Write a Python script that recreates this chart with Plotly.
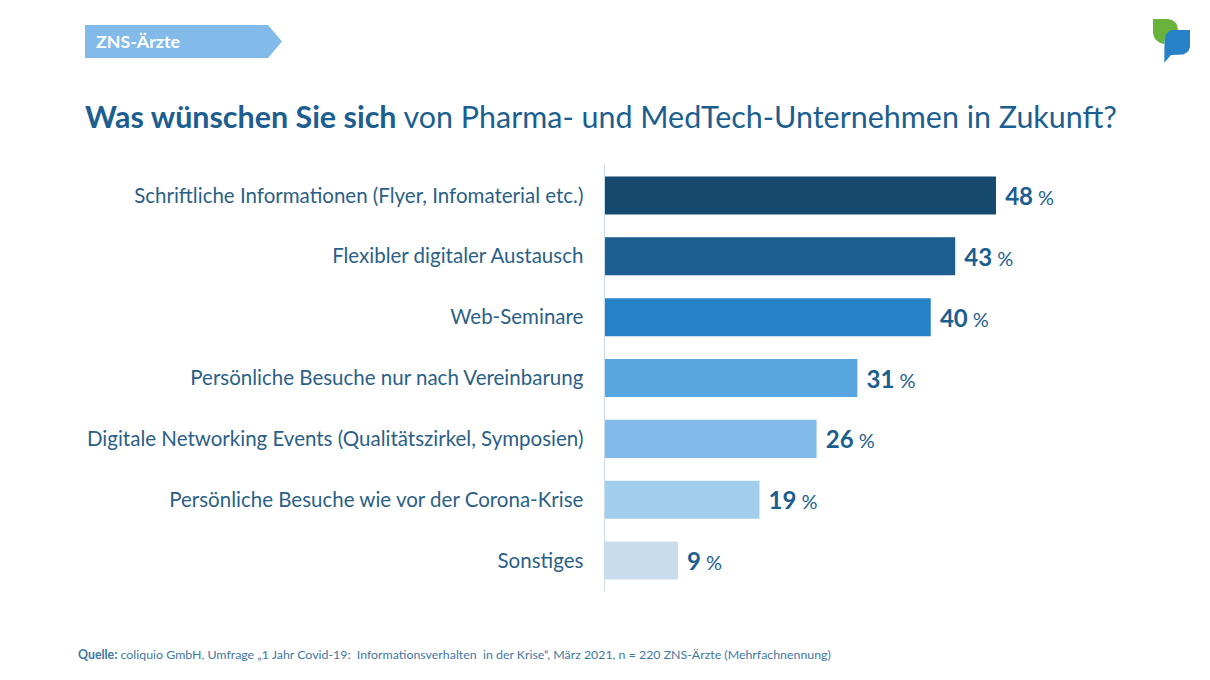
import plotly.graph_objects as go

W = 1210
H = 680

categories = [
    'Schriftliche Informationen (Flyer, Infomaterial etc.)',
    'Flexibler digitaler Austausch',
    'Web-Seminare',
    'Persönliche Besuche nur nach Vereinbarung',
    'Digitale Networking Events (Qualitätszirkel, Symposien)',
    'Persönliche Besuche wie vor der Corona-Krise',
    'Sonstiges',
]
values = [48, 43, 40, 31, 26, 19, 9]
bar_colors = ['#154a6e', '#1b5e8f', '#2681c7', '#58a6e0', '#82bbe9', '#a2ceee', '#c9dcec']

FONT = 'Lato'
TEXT_BLUE = '#1b5e8f'
LABEL_BLUE = '#2b5f87'


# pixel position on the page -> paper coordinates
def px(x):
    return x / W


def py(y):
    return 1 - y / H


def path(points):
    return 'M ' + ' L '.join(f'{px(x):.5f},{py(y):.5f}' for x, y in points) + ' Z'


fig = go.Figure(
    go.Bar(
        x=values,
        y=categories,
        orientation='h',
        marker=dict(color=bar_colors, line=dict(width=0)),
        text=[f"\u00a0<b>{v}</b><span style='font-size:20px'> %</span>" for v in values],
        textposition='outside',
        textfont=dict(family=FONT, size=24, color=TEXT_BLUE),
        cliponaxis=False,
        hoverinfo='skip',
    )
)

fig.update_layout(
    width=W,
    height=H,
    margin=dict(l=0, r=0, t=0, b=0),
    autosize=False,
    paper_bgcolor='white',
    plot_bgcolor='white',
    showlegend=False,
    bargap=0.375,
    font=dict(family=FONT, color=LABEL_BLUE),
)

fig.update_xaxes(
    domain=[px(604.5), px(604.5 + 60 * 8.156)],
    range=[0, 60],
    visible=False,
)
fig.update_yaxes(
    domain=[py(591), py(165)],
    autorange='reversed',
    showgrid=False,
    showline=True,
    linecolor='#c9dcec',
    linewidth=1,
    ticks='',
    ticklabelstandoff=16,
    tickfont=dict(family=FONT, size=20.5, color=LABEL_BLUE),
)

# tag top left
fig.add_shape(
    type='path',
    xref='paper', yref='paper',
    path=path([(85, 25), (268, 25), (282, 41.5), (268, 58), (85, 58)]),
    fillcolor='#82bbe9',
    line=dict(width=0),
)

# logo: green leaf behind, blue speech bubble in front
fig.add_shape(
    type='path',
    xref='paper', yref='paper',
    path=path([(1153, 19), (1168, 19), (1172, 20), (1175, 22), (1177, 25), (1178, 30),
               (1178, 34), (1168, 34), (1165, 38), (1164, 44), (1160, 43), (1156, 40),
               (1154, 37), (1153, 33)]),
    fillcolor='#69b23c',
    line=dict(width=0),
)
fig.add_shape(
    type='path',
    xref='paper', yref='paper',
    path=path([(1171.5, 30), (1190, 30), (1190, 47), (1188.5, 51), (1186, 53), (1183, 54.5),
               (1171, 55), (1164.3, 62.7), (1164.5, 40), (1165.5, 35.5), (1168, 32)]),
    fillcolor='#2681c7',
    line=dict(width=0),
)

fig.add_annotation(
    text='<b>ZNS-Ärzte</b>',
    xref='paper', yref='paper',
    x=px(94), y=py(41),
    xanchor='left', yanchor='middle',
    showarrow=False,
    font=dict(family=FONT, size=17.8, color='white'),
)
fig.add_annotation(
    text='<b>Was wünschen Sie sich</b> von Pharma- und MedTech-Unternehmen in Zukunft?',
    xref='paper', yref='paper',
    x=px(83), y=py(116),
    xanchor='left', yanchor='middle',
    showarrow=False,
    font=dict(family=FONT, size=30.45, color=TEXT_BLUE),
)
fig.add_annotation(
    text='<b>Quelle:</b> coliquio GmbH, Umfrage „1 Jahr Covid-19:\u00a0 Informationsverhalten\u00a0 in der Krise“, März 2021, n = 220 ZNS-Ärzte (Mehrfachnennung)',
    xref='paper', yref='paper',
    x=px(76), y=py(654),
    xanchor='left', yanchor='middle',
    showarrow=False,
    font=dict(family=FONT, size=12.36, color='#3f77a3'),
)

fig.write_html('out.html', config=dict(displayModeBar=False),
               post_script="document.body.style.margin='0';")
